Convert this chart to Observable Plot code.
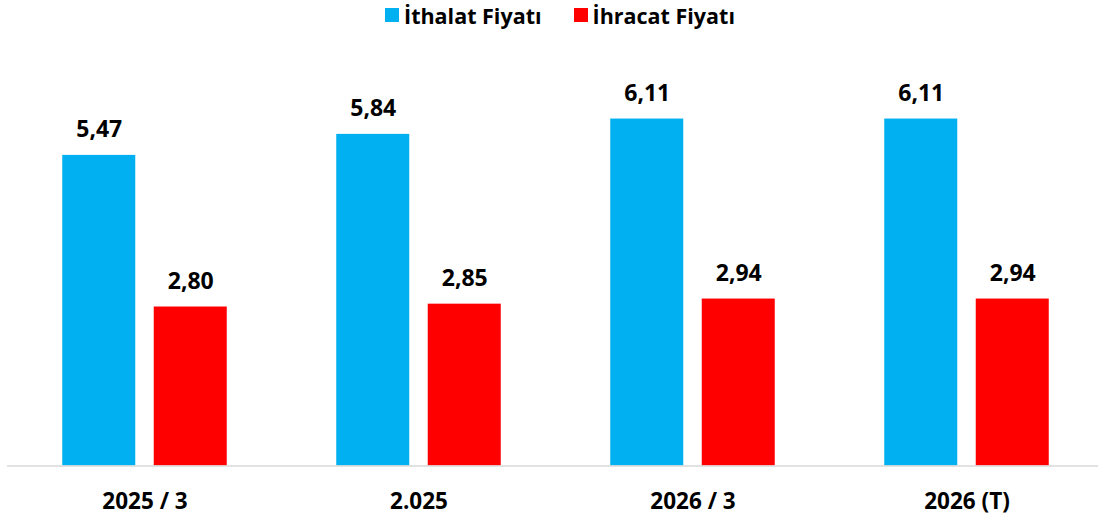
<!DOCTYPE html>
<html><head><meta charset="utf-8">
<script src="https://cdn.jsdelivr.net/npm/d3@7"></script>
<script src="https://cdn.jsdelivr.net/npm/@observablehq/plot@0.6"></script>
<style>
html,body{margin:0;padding:0;background:#fff;}
body{width:1098px;height:520px;overflow:hidden;font-family:"Open Sans",sans-serif;}
#legend{height:30px;display:flex;justify-content:center;align-items:center;padding-left:22px;box-sizing:border-box;font-weight:700;font-size:21.5px;color:#000;}
.item{display:flex;align-items:center;margin:0 16px;}
.sw{width:14px;height:14px;margin-right:5px;}
#chart svg{display:block;}
</style></head><body>
<div id="legend"></div>
<div id="chart"></div>
<script>
const categories = ["2025 / 3", "2.025", "2026 / 3", "2026 (T)"];
const series = ["İthalat Fiyatı", "İhracat Fiyatı"];
const ithalat = [5.47, 5.84, 6.11, 6.11];
const ihracat = [2.80, 2.85, 2.94, 2.94];
const colors = ["#00B0F0", "#FF0000"];

const fmt = v => d3.format(".2f")(v).replace(".", ",");
const rowsA = categories.map((c, i) => ({cat: c, series: series[0], value: ithalat[i]}));
const rowsB = categories.map((c, i) => ({cat: c, series: series[1], value: ihracat[i]}));

const legend = document.getElementById("legend");
series.forEach((s, i) => {
  const it = document.createElement("div"); it.className = "item";
  const sw = document.createElement("div"); sw.className = "sw"; sw.style.background = colors[i];
  const t = document.createElement("span"); t.textContent = s;
  it.appendChild(sw); it.appendChild(t); legend.appendChild(it);
});

const off = 45.75;
const plot = Plot.plot({
  width: 1098, height: 490,
  marginLeft: 7, marginRight: 0, marginTop: 38, marginBottom: 54.5,
  style: {fontFamily: "Open Sans, sans-serif", background: "#fff", overflow: "visible"},
  x: {domain: categories, range: [7, 1105], paddingInner: 0.733, paddingOuter: 0.3665, align: 0.5},
  y: {domain: [0, 7], axis: null},
  color: {domain: series, range: colors},
  marks: [
    Plot.barY(rowsA, {x: "cat", y: "value", fill: "series", dx: -off}),
    Plot.barY(rowsB, {x: "cat", y: "value", fill: "series", dx: off}),
    Plot.ruleY([0], {stroke: "#d9d9d9", strokeWidth: 1.5}),
    Plot.text(rowsA, {x: "cat", y: "value", text: d => fmt(d.value), dx: -off, dy: -18, lineAnchor: "bottom", fontSize: 23, fontWeight: 700, fill: "#000"}),
    Plot.text(rowsB, {x: "cat", y: "value", text: d => fmt(d.value), dx: off, dy: -18, lineAnchor: "bottom", fontSize: 23, fontWeight: 700, fill: "#000"}),
    Plot.axisX({tickSize: 0, tickPadding: 27, fontSize: 22.5, fontWeight: 700, fill: "#000", label: null})
  ]
});
document.getElementById("chart").appendChild(plot);
</script>
</body></html>
